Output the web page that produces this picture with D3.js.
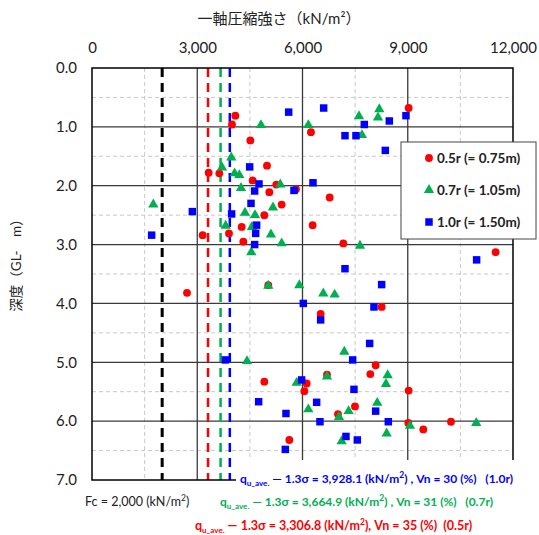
<!DOCTYPE html>
<html>
<head>
<meta charset="utf-8">
<script src="https://cdn.jsdelivr.net/npm/d3@7"></script>
<style>
body { margin: 0; background: #fff; }
svg text { font-family: Lato, "Noto Sans CJK JP", sans-serif; white-space: pre; }
</style>
</head>
<body>
<div class="chart"></div>
<script>
// 0.5r (= 0.75m)  [strength kN/m2, depth m]
var red05 = [[4085,0.81],[3990,0.96],[4513,1.23],[4988,1.66],[3325,1.78],[3629,1.79],[4579,1.91],[5253,1.98],
  [5054,2.11],[5814,2.06],[5406,2.32],[4912,2.50],[4266,2.70],[3154,2.84],[3904,2.81],[4313,2.95],
  [9026,0.68],[6241,1.09],[6774,2.20],[6289,2.67],[7163,2.98],[11505,3.13],
  [5025,3.69],[2708,3.82],[4912,5.33],[6118,5.36],[6052,5.49],[5624,6.32],
  [8256,4.06],[6517,4.18],[8085,5.05],[7933,5.20],[6698,5.21],[9026,5.48],[7496,5.75],[7011,5.88],
  [9016,6.03],[9443,6.14],[10232,6.01]];
// 0.7r (= 1.05m)
var green07 = [[4817,0.97],[3970,1.52],[3705,1.69],[4066,1.79],[4199,1.82],[5367,1.98],[4247,2.04],[1748,2.32],
  [5159,2.37],[4361,2.46],[4646,2.50],[3810,2.68],[4560,2.70],[5101,2.83],[5406,2.98],[4541,3.13],
  [6166,0.97],[8189,0.70],[7610,0.82],[8151,0.84],[7695,1.14],[7638,3.02],
  [5025,3.70],[5909,3.69],[4418,4.98],[5833,5.35],
  [6593,3.83],[6916,3.85],[7191,4.82],[8427,5.22],[6698,5.24],[8379,5.37],[8131,5.69],[6166,5.80],
  [7315,5.83],[7040,5.93],[9063,6.08],[10953,6.03],[8398,6.21],[7116,6.34]];
// 1.0r (= 1.50m)
var blue10 = [[5606,0.75],[4494,1.68],[4760,1.97],[4636,2.09],[5757,2.08],[2860,2.44],[4532,2.30],[3980,2.48],
  [4693,2.67],[1700,2.84],[4665,2.81],[4636,3.00],
  [6603,0.68],[8474,0.90],[8949,0.81],[7762,0.96],[7211,1.15],[7524,1.15],[8360,1.40],[6299,1.95],
  [10963,3.26],[7211,3.41],
  [6023,4.00],[3800,4.96],[5976,5.30],[4750,5.67],[5529,5.87],[5510,6.48],
  [8256,3.68],[8037,4.06],[6517,4.28],[7914,4.68],[7430,4.96],[7467,5.46],[6403,5.68],[8085,5.83],
  [6498,6.01],[8446,6.01],[7239,6.26],[7562,6.32]];

var xTicks = [0, 3000, 6000, 9000, 12000];
var yTicks = [0, 1, 2, 3, 4, 5, 6, 7];
var refLines = [2000, 3306.8, 3664.9, 3928.1];
var refColors = ["#000000", "#FF0000", "#00B050", "#0000FF"];
var legendLabels = ["0.5r (= 0.75m)", "0.7r (= 1.05m)", "1.0r (= 1.50m)"];

var W = 539, H = 535;
var pL = 92, pR = 513, pT = 68, pB = 480;

var svg = d3.select(".chart").append("svg").attr("width", W).attr("height", H);

var x = d3.scaleLinear().domain([0, 12000]).range([pL, pR]);
var y = d3.scaleLinear().domain([0, 7]).range([pT, pB]);

// minor dashed grid
var g = svg.append("g");
g.selectAll(".vm").data(d3.range(1500, 12000, 3000)).enter().append("line")
  .attr("x1", d => x(d)).attr("x2", d => x(d)).attr("y1", pT).attr("y2", pB)
  .attr("stroke", "#c8c8c8").attr("stroke-dasharray", "4,3");
g.selectAll(".hm").data(d3.range(0.5, 7, 1)).enter().append("line")
  .attr("x1", pL).attr("x2", pR).attr("y1", d => y(d)).attr("y2", d => y(d))
  .attr("stroke", "#c8c8c8").attr("stroke-dasharray", "4,3");
// major grid
g.selectAll(".vM").data([3000, 6000, 9000]).enter().append("line")
  .attr("x1", d => x(d)).attr("x2", d => x(d)).attr("y1", pT).attr("y2", pB)
  .attr("stroke", "#3a3a3a").attr("stroke-width", 1.3);
g.selectAll(".hM").data([1, 2, 3, 4, 5, 6]).enter().append("line")
  .attr("x1", pL).attr("x2", pR).attr("y1", d => y(d)).attr("y2", d => y(d))
  .attr("stroke", "#3a3a3a").attr("stroke-width", 1.3);

// axes (labels only)
var xAxis = svg.append("g").attr("transform", "translate(0," + pT + ")")
  .call(d3.axisTop(x).tickValues(xTicks).tickFormat(d3.format(",")).tickSize(0).tickPadding(15));
var yAxis = svg.append("g").attr("transform", "translate(" + pL + ",0)")
  .call(d3.axisLeft(y).tickValues(yTicks).tickFormat(d3.format(".1f")).tickSize(0).tickPadding(15));
[xAxis, yAxis].forEach(function(a){
  a.select(".domain").remove();
  a.selectAll("text").attr("font-size", 15).attr("fill", "#222").attr("font-family", "Lato, sans-serif");
});

// reference dashed lines
svg.selectAll(".ref").data(refLines).enter().append("line")
  .attr("x1", d => x(d)).attr("x2", d => x(d)).attr("y1", pT).attr("y2", pB)
  .attr("stroke", (d, i) => refColors[i])
  .attr("stroke-width", (d, i) => i == 0 ? 3 : 2.5)
  .attr("stroke-dasharray", "9,6");

// markers
var sym = [d3.symbolCircle, d3.symbolTriangle, d3.symbolSquare];
var sizes = [48, 46, 56];
var colors = ["#FF0000", "#00B050", "#0000FF"];
[red05, green07, blue10].forEach(function(series, k){
  svg.append("g").selectAll("path").data(series).enter().append("path")
    .attr("d", d3.symbol().type(sym[k]).size(sizes[k]))
    .attr("transform", d => "translate(" + x(d[0]) + "," + y(d[1]) + ")")
    .attr("fill", colors[k]);
});

// frame
svg.append("rect").attr("x", pL).attr("y", pT).attr("width", pR - pL).attr("height", pB - pT)
  .attr("fill", "none").attr("stroke", "#000").attr("stroke-width", 1.5);

// titles
svg.append("text").attr("x", 279).attr("y", 24).attr("text-anchor", "middle")
  .attr("font-size", 15).attr("fill", "#222").text("一軸圧縮強さ（kN/m²）");
svg.append("text").attr("transform", "translate(21,262) rotate(-90)").attr("text-anchor", "middle")
  .attr("font-size", 13.5).attr("fill", "#222").text("深度（GL-　m）");

// legend
var lg = svg.append("g");
lg.append("rect").attr("x", 401).attr("y", 142).attr("width", 135).attr("height", 97)
  .attr("fill", "#fff").attr("stroke", "#444").attr("stroke-width", 1);
legendLabels.forEach(function(t, k){
  var ly = 158 + k * 32;
  lg.append("path").attr("d", d3.symbol().type(sym[k]).size(sizes[k])())
    .attr("transform", "translate(429," + ly + ")").attr("fill", colors[k]);
  lg.append("text").attr("x", 437).attr("y", ly + 5).attr("font-size", 13.5)
    .attr("font-weight", "bold").attr("fill", "#222").text(t);
});

// bottom annotations
svg.append("rect").attr("x", 236).attr("y", 460).attr("width", 303).attr("height", 30).attr("fill", "#fff");
function note(xp, yp, col, val, vn, r, gap, tail, fs) {
  var t = svg.append("text").attr("x", xp).attr("y", yp).attr("fill", col)
    .attr("font-size", fs).attr("font-weight", "bold");
  t.append("tspan").text("q");
  t.append("tspan").attr("font-size", 8).attr("dy", 2.5).text("u_ave.");
  t.append("tspan").attr("dy", -2.5).text(" — 1.3σ = " + val + " (kN/m");
  t.append("tspan").attr("font-size", 8.5).attr("dy", -5).text("2");
  t.append("tspan").attr("dy", 5).text(")" + gap + ", Vn = " + vn + " (%)" + tail + "(" + r + ")");
}
var fc = svg.append("text").attr("x", 85).attr("y", 506).attr("font-size", 12.5).attr("fill", "#222");
fc.append("tspan").text("Fc = 2,000 (kN/m");
fc.append("tspan").attr("font-size", 8.5).attr("dy", -5).text("2");
fc.append("tspan").attr("dy", 5).text(")");
note(240, 483, "#0000FF", "3,928.1", 30, "1.0r", " ", "   ", 12);
note(220, 506, "#00B050", "3,664.9", 31, "0.7r", " ", "   ", 12);
note(195, 530, "#FF0000", "3,306.8", 35, "0.5r", "", "  ", 12.5);
</script>
</body>
</html>
